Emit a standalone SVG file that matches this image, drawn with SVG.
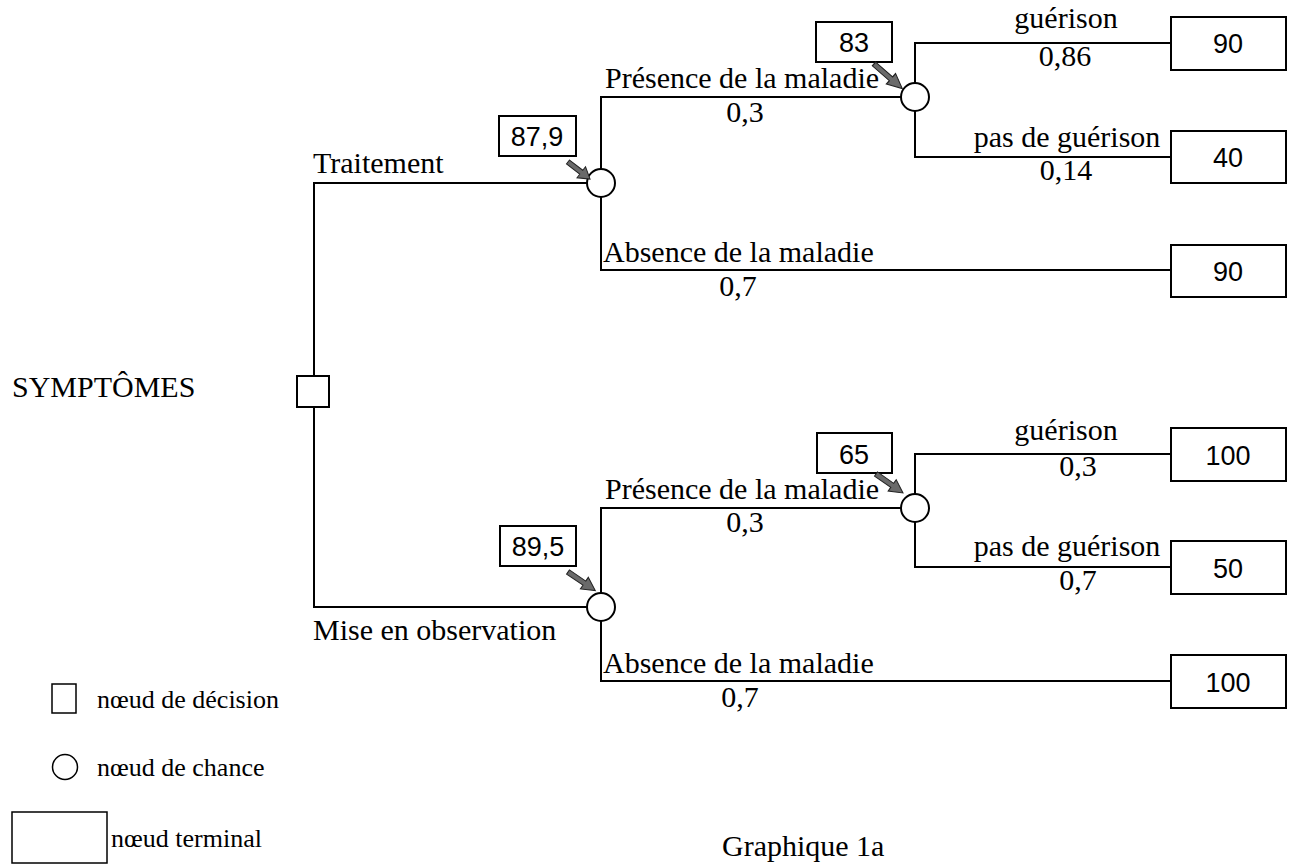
<svg xmlns="http://www.w3.org/2000/svg" xmlns:xlink="http://www.w3.org/1999/xlink" width="1298" height="865" viewBox="0 0 1298 865">
<style>
.ln{stroke:#000;stroke-width:2;fill:none}
.bx{stroke:#000;stroke-width:2;fill:#fff}
.lb{font-family:"Liberation Serif","Times New Roman",serif;font-size:30px;fill:#000}
.lg{font-family:"Liberation Serif","Times New Roman",serif;font-size:26px;fill:#000}
.nm{font-family:"Liberation Sans",Arial,sans-serif;font-size:27px;fill:#000;text-anchor:middle}
.mid{text-anchor:middle}
.arr{fill:#6a6a6a;stroke:#222;stroke-width:1}
</style>
<defs>
<path id="arrow" class="arr" d="M0,-2.5 H18 V-7 L30,0 L18,7 V2.5 H0 Z"/>
</defs>
<rect width="1298" height="865" fill="#fff"/>

<g id="connectors">
<path class="ln" d="M314,376 V183 H587"/>
<path class="ln" d="M314,407 V607 H587"/>
<path class="ln" d="M601,169 V97 H901"/>
<path class="ln" d="M601,197 V270 H1171"/>
<path class="ln" d="M915,83 V43 H1171"/>
<path class="ln" d="M915,111 V157 H1171"/>
<path class="ln" d="M601,593 V508 H901"/>
<path class="ln" d="M601,621 V681 H1171"/>
<path class="ln" d="M915,494 V454 H1171"/>
<path class="ln" d="M915,522 V567 H1171"/>
</g>

<g id="decision">
<rect class="bx" x="297" y="376" width="32" height="31"/>
<text class="lb" x="12" y="397">SYMPTÔMES</text>
</g>

<g id="branch-traitement">
<text class="lb" x="313" y="173">Traitement</text>
</g>
<g id="branch-observation">
<text class="lb" x="313" y="640">Mise en observation</text>
</g>

<g id="chance-traitement">
<circle class="bx" cx="601" cy="183" r="14"/>
<rect class="bx" x="499" y="116" width="77" height="40"/>
<text class="nm" x="537" y="146">87,9</text>
<use href="#arrow" transform="translate(568,162) rotate(37.7) scale(0.93,1)"/>
</g>

<g id="chance-presence-1">
<circle class="bx" cx="915" cy="97" r="14"/>
<text class="lb" x="605" y="88">Présence de la maladie</text>
<text class="lb mid" x="745" y="122">0,3</text>
<rect class="bx" x="816" y="22" width="76" height="40"/>
<text class="nm" x="854" y="52">83</text>
<use href="#arrow" transform="translate(874,64) rotate(41) scale(1.25,1)"/>
</g>

<g id="terminal-1">
<text class="lb mid" x="1066" y="28">guérison</text>
<text class="lb mid" x="1065" y="66">0,86</text>
<rect class="bx" x="1171" y="17" width="115" height="53"/>
<text class="nm" x="1228" y="53">90</text>
</g>
<g id="terminal-2">
<text class="lb mid" x="1067" y="147">pas de guérison</text>
<text class="lb mid" x="1066" y="180">0,14</text>
<rect class="bx" x="1171" y="131" width="115" height="52"/>
<text class="nm" x="1228" y="167">40</text>
</g>
<g id="terminal-3">
<text class="lb" x="603" y="262">Absence de la maladie</text>
<text class="lb mid" x="738" y="296">0,7</text>
<rect class="bx" x="1171" y="245" width="115" height="52"/>
<text class="nm" x="1228" y="281">90</text>
</g>

<g id="chance-observation">
<circle class="bx" cx="601" cy="607" r="14"/>
<rect class="bx" x="500" y="526" width="76" height="40"/>
<text class="nm" x="538" y="556">89,5</text>
<use href="#arrow" transform="translate(568,572) rotate(34.2) scale(1.1,1)"/>
</g>

<g id="chance-presence-2">
<circle class="bx" cx="915" cy="508" r="14"/>
<text class="lb" x="605" y="499">Présence de la maladie</text>
<text class="lb mid" x="745" y="532">0,3</text>
<rect class="bx" x="817" y="433" width="75" height="40"/>
<text class="nm" x="854" y="464">65</text>
<use href="#arrow" transform="translate(876,474) rotate(35.1) scale(1.1,1)"/>
</g>

<g id="terminal-4">
<text class="lb mid" x="1066" y="440">guérison</text>
<text class="lb mid" x="1078" y="476">0,3</text>
<rect class="bx" x="1171" y="428" width="115" height="53"/>
<text class="nm" x="1228" y="465">100</text>
</g>
<g id="terminal-5">
<text class="lb mid" x="1067" y="556">pas de guérison</text>
<text class="lb mid" x="1078" y="590">0,7</text>
<rect class="bx" x="1171" y="541" width="115" height="53"/>
<text class="nm" x="1228" y="578">50</text>
</g>
<g id="terminal-6">
<text class="lb" x="603" y="673">Absence de la maladie</text>
<text class="lb mid" x="740" y="707">0,7</text>
<rect class="bx" x="1171" y="655" width="115" height="53"/>
<text class="nm" x="1228" y="692">100</text>
</g>

<g id="legend">
<rect class="bx" x="52" y="684" width="24" height="29" style="stroke-width:1.5"/>
<text class="lg" x="97" y="708">nœud de décision</text>
<circle class="bx" cx="65" cy="767" r="12.5" style="stroke-width:1.5"/>
<text class="lg" x="97" y="776">nœud de chance</text>
<rect class="bx" x="12" y="812" width="95" height="51" style="stroke-width:1.5"/>
<text class="lg" x="111" y="847">nœud terminal</text>
</g>

<g id="caption">
<text class="lb" x="722" y="856">Graphique 1a</text>
</g>
</svg>
